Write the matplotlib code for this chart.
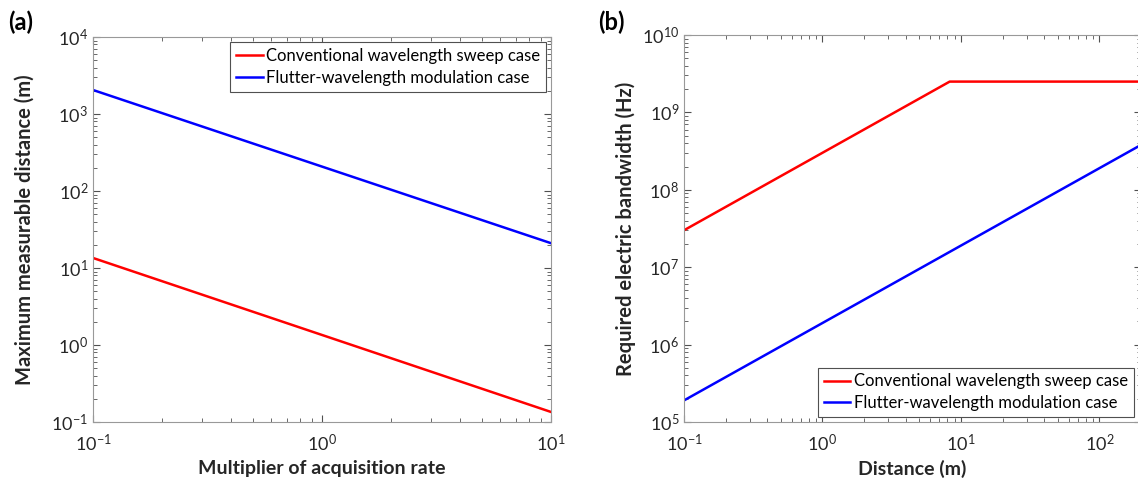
import matplotlib
matplotlib.use("Agg")
import matplotlib.pyplot as plt

plt.rcParams['font.family'] = ['Lato', 'DejaVu Sans']
plt.rcParams['mathtext.default'] = 'regular'

# panel (a)
rate = [0.1, 10]
dist_conv = [13.5, 0.135]
dist_flut = [2050, 21]

# panel (b)
d_conv = [0.1, 8.3, 200]
bw_conv = [3.0e7, 2.5e9, 2.5e9]
d_flut = [0.1, 200]
bw_flut = [1.9e5, 3.8e8]

labels = ["Conventional wavelength sweep case", "Flutter-wavelength modulation case"]
red = "#ff0000"
blue = "#0000ff"
gray = "#505050"

fig = plt.figure(figsize=(11.38, 4.82), dpi=100)
ax1 = fig.add_axes([93/1138, 60/482, 458/1138, 385/482])
ax2 = fig.add_axes([684/1138, 60/482, 457/1138, 387/482])


def style(ax):
    ax.set_xscale("log")
    ax.set_yscale("log")
    ax.tick_params(which="both", direction="in", top=True, right=True,
                   colors=gray, labelsize=13, labelcolor="#262626")
    ax.tick_params(which="major", length=5)
    ax.tick_params(which="minor", length=3)
    ax.tick_params(axis="x", pad=8)
    for s in ax.spines.values():
        s.set_color("#999999")
        s.set_linewidth(0.8)


ax1.plot(rate, dist_conv, color=red, lw=1.8, label=labels[0])
ax1.plot(rate, dist_flut, color=blue, lw=1.8, label=labels[1])
style(ax1)
ax1.set_xlim(0.1, 10)
ax1.set_ylim(0.1, 1e4)
ax1.set_xlabel("Multiplier of acquisition rate", fontsize=14, fontweight="bold", color="#262626")
ax1.set_ylabel("Maximum measurable distance (m)", fontsize=14.5, fontweight="bold",
               color="#262626", labelpad=12)
leg1 = ax1.legend(loc="upper right", fontsize=12, handlelength=1.6, handletextpad=0.2,
                  borderaxespad=0.3, fancybox=False, framealpha=1, borderpad=0.35,
                  labelspacing=0.35)
leg1.get_frame().set_edgecolor(gray)
leg1.get_frame().set_linewidth(0.8)

ax2.plot(d_conv, bw_conv, color=red, lw=1.8, label=labels[0])
ax2.plot(d_flut, bw_flut, color=blue, lw=1.8, label=labels[1])
style(ax2)
ax2.set_xlim(0.1, 200)
ax2.set_ylim(1e5, 1e10)
ax2.set_xlabel("Distance (m)", fontsize=14, fontweight="bold", color="#262626")
ax2.set_ylabel("Required electric bandwidth (Hz)", fontsize=14.5, fontweight="bold", color="#262626")
leg2 = ax2.legend(loc="lower right", fontsize=12, handlelength=1.6, handletextpad=0.2,
                  borderaxespad=0.3, fancybox=False, framealpha=1, borderpad=0.35,
                  labelspacing=0.35, bbox_to_anchor=(0.995, 0.0))
leg2.get_frame().set_edgecolor(gray)
leg2.get_frame().set_linewidth(0.8)

fig.text(8/1138, 1 - 22/482, "(a)", fontsize=17, fontweight="bold", va="center")
fig.text(598/1138, 1 - 22/482, "(b)", fontsize=17, fontweight="bold", va="center")

fig.savefig("out.png", dpi=100)
